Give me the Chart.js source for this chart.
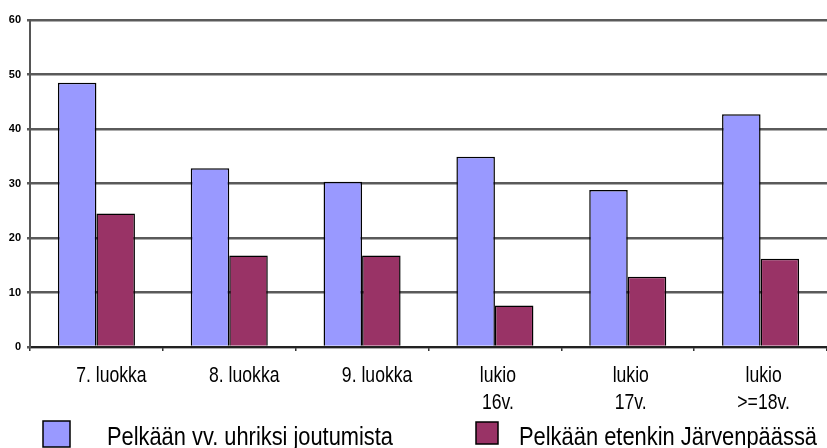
<!DOCTYPE html>
<html>
<head>
<meta charset="utf-8">
<script src="https://cdn.jsdelivr.net/npm/chart.js@4.4.1/dist/chart.umd.min.js"></script>
<style>
  html, body { margin: 0; padding: 0; background: #ffffff; }
  #wrap { width: 827px; height: 448px; position: relative; }
</style>
</head>
<body>
<div id="wrap"><canvas id="c" width="827" height="448"></canvas></div>
<script>
const categories = [["7. luokka"], ["8. luokka"], ["9. luokka"], ["lukio", "16v."], ["lukio", "17v."], ["lukio", ">=18v."]];
const seriesNames = ["Pelkään vv. uhriksi joutumista", "Pelkään etenkin Järvenpäässä"];
const fearVictim = [48.5, 32.8, 30.3, 34.9, 28.8, 42.7];
const fearJarvenpaa = [24.5, 16.8, 16.8, 7.6, 12.9, 16.2];
const yTicks = [0, 10, 20, 30, 40, 50, 60];

const SANS = "'Liberation Sans', Arial, sans-serif";
const NARROW_SCALE = 0.8;

function drawNarrow(ctx, text, x, y, size, align) {
  ctx.save();
  ctx.font = size + "px " + SANS;
  ctx.textBaseline = 'alphabetic';
  ctx.textAlign = align;
  ctx.translate(x, y);
  ctx.scale(NARROW_SCALE, 1);
  ctx.fillText(text, 0, 0);
  ctx.restore();
}

const legendPlugin = {
  id: 'customLegend',
  afterDraw(chart) {
    const ctx = chart.ctx;
    const boxes = [
      { x: 43, y: 421, w: 27, h: 26, tx: 107, tw: 286 },
      { x: 476, y: 422, w: 22, h: 22, tx: 519, tw: 298 }
    ];
    ctx.save();
    chart.data.datasets.forEach((ds, i) => {
      const b = boxes[i];
      ctx.fillStyle = ds.backgroundColor;
      ctx.fillRect(b.x, b.y, b.w, b.h);
      ctx.lineWidth = 1.5;
      ctx.strokeStyle = '#000';
      ctx.strokeRect(b.x, b.y, b.w, b.h);
      ctx.fillStyle = '#000';
      ctx.font = "26px " + SANS;
      ctx.textBaseline = 'alphabetic';
      ctx.textAlign = 'left';
      const w = ctx.measureText(ds.label).width;
      const s = b.tw / w;
      ctx.save();
      ctx.translate(b.tx, 445);
      ctx.scale(s, 1);
      ctx.fillText(ds.label, 0, 0);
      ctx.restore();
    });
    ctx.restore();
  }
};

// Draws the x-axis category labels (from the scale's own label items) in a condensed face
const xLabelPlugin = {
  id: 'xLabels',
  afterDraw(chart) {
    const xs = chart.scales.x;
    const items = xs.getLabelItems(chart.chartArea);
    const ctx = chart.ctx;
    const base = chart.chartArea.bottom;
    ctx.save();
    ctx.fillStyle = '#000';
    items.forEach(it => {
      const lines = Array.isArray(it.label) ? it.label : [it.label];
      const cx = it.options.translation[0] + (lines.length > 1 ? 3 : 15);
      lines.forEach((ln, j) => {
        drawNarrow(ctx, ln, cx, base + 35 + j * 27, 22, 'center');
      });
    });
    ctx.restore();
  }
};

new Chart(document.getElementById('c'), {
  type: 'bar',
  data: {
    labels: categories,
    datasets: [
      { label: seriesNames[0], data: fearVictim, backgroundColor: '#9999FF', borderColor: '#000000', borderWidth: 1.5 },
      { label: seriesNames[1], data: fearJarvenpaa, backgroundColor: '#993366', borderColor: '#000000', borderWidth: 1.5 }
    ]
  },
  options: {
    responsive: false,
    animation: false,
    devicePixelRatio: 1,
    layout: { padding: { top: 20, right: 0, bottom: 38, left: 0 } },
    datasets: { bar: { categoryPercentage: 0.58, barPercentage: 1.0 } },
    plugins: {
      legend: { display: false },
      tooltip: { enabled: false }
    },
    scales: {
      x: {
        grid: { display: true, drawOnChartArea: false, drawTicks: true, tickLength: 4, offset: true, color: '#333', lineWidth: 1.5 },
        border: { display: true, color: '#222', width: 2 },
        ticks: {
          color: 'rgba(0,0,0,0)',
          font: { family: SANS, size: 18, lineHeight: 1.5 },
          padding: 8,
          maxRotation: 0,
          autoSkip: false
        },
        afterFit(scale) { scale.height = 63; }
      },
      y: {
        min: 0, max: 60,
        afterBuildTicks(scale) { scale.ticks = yTicks.map(v => ({ value: v })); },
        grid: { color: '#5a5a5a', lineWidth: 2.5, drawTicks: true, tickLength: 3 },
        border: { display: true, color: '#555', width: 2 },
        ticks: {
          color: '#000',
          font: { family: SANS, size: 11, weight: 'bold' },
          padding: 6
        },
        afterFit(scale) { scale.width = 30; }
      }
    }
  },
  plugins: [legendPlugin, xLabelPlugin]
});
</script>
</body>
</html>
